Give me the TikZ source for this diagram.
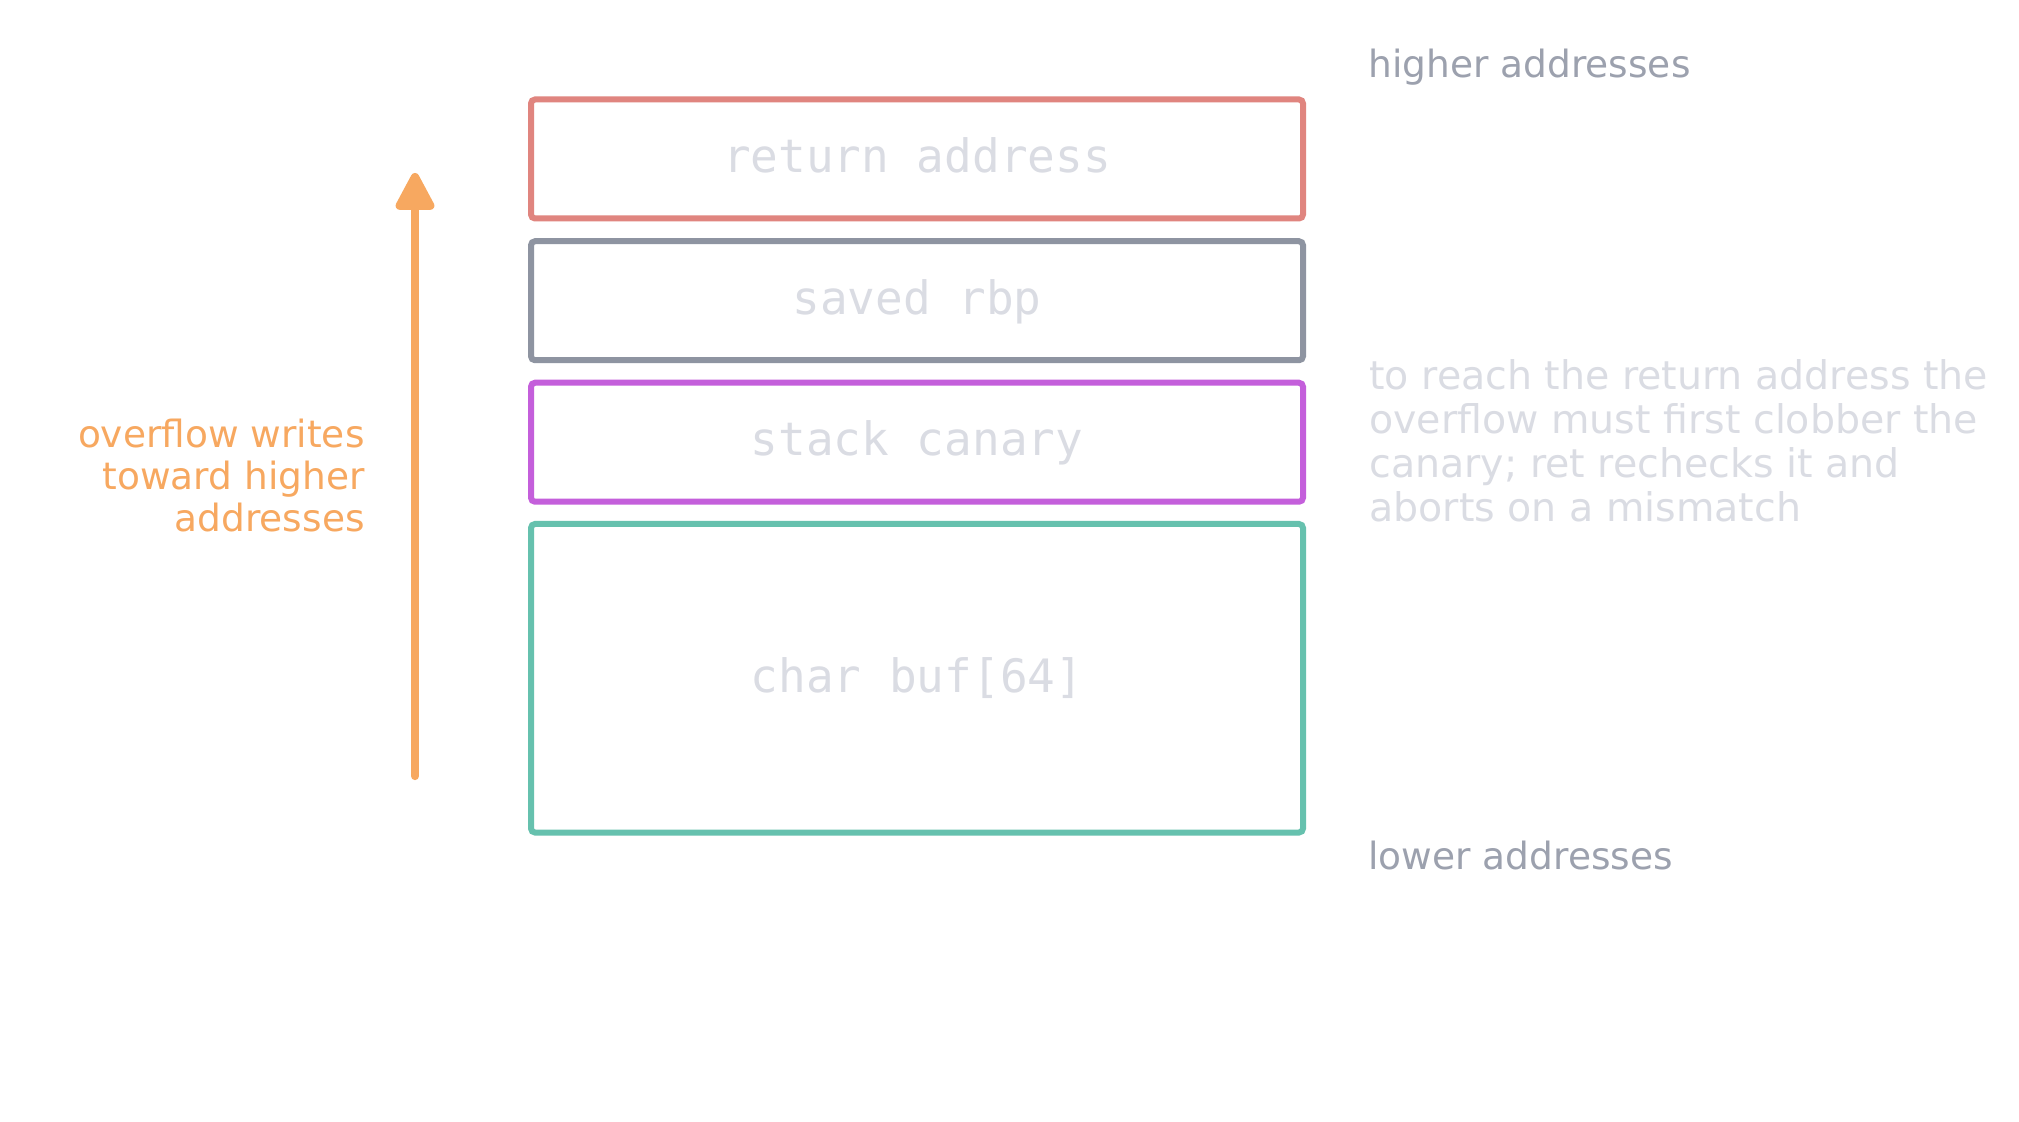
\documentclass[tikz,border=0pt]{standalone}
\usepackage{fontspec}
\setmainfont{DejaVu Sans}
\setmonofont{DejaVu Sans Mono}
\usetikzlibrary{arrows.meta}
\definecolor{cred}{HTML}{E0857F}
\definecolor{cgrey}{HTML}{8E94A1}
\definecolor{cpurple}{HTML}{C45FDB}
\definecolor{cteal}{HTML}{66C1AE}
\definecolor{corange}{HTML}{F7A860}
\definecolor{clight}{HTML}{DADCE3}
\definecolor{chead}{HTML}{9CA1AE}
\tikzset{
  frame/.style={draw=#1, line width=3pt, rounded corners=2pt, inner sep=0pt, outer sep=0pt,
    minimum width=386pt, minimum height=59.5pt},
  monolabel/.style={inner sep=0pt, text=clight, font=\fontsize{23pt}{27pt}\selectfont\ttfamily, anchor=base},
  sidehead/.style={inner sep=0pt, text=chead, font=\fontsize{18.75pt}{22pt}\selectfont, anchor=base west},
  note/.style={inner sep=0pt, text=clight, font=\fontsize{19.75pt}{22pt}\selectfont, align=left, anchor=north west},
  dirlabel/.style={inner sep=0pt, text=corange, font=\fontsize{18.75pt}{20.85pt}\selectfont, align=right, anchor=north east},
  growarrow/.style={draw=corange, line width=4.15pt, line cap=round,
    -{Triangle[length=21pt, width=21pt, round]}}
}
\begin{document}
\begin{tikzpicture}[x=0.5pt, y=-0.5pt]
\useasboundingbox (0,0) rectangle (2019,1122);
\fill[white] (0,0) rectangle (2019,1122);

% stack frames
\node[frame=cred] (ret) at (917,159) {};
\node[frame=cgrey] (rbp) at (917,300.75) {};
\node[frame=cpurple] (can) at (917,442.25) {};
\node[frame=cteal, minimum height=154.25pt] (buf) at (917,678.25) {};

\node[monolabel] (tret) at (917,172.7) {return address};
\node[monolabel] (trbp) at (917,314.5) {saved rbp};
\node[monolabel] (tcan) at (917,456) {stack canary};
\node[monolabel] (tbuf) at (917,692) {char buf[64]};

% side labels
\node[sidehead] (hi) at (1368,77.5) {higher addresses};
\node[sidehead] (lo) at (1368,869) {lower addresses};
\node[note] (why) at (1369,359.5) {to reach the return address the\\overflow must first clobber the\\canary; ret rechecks it and\\aborts on a mismatch};

% growth arrow
\coordinate (abot) at (415,776);
\coordinate (atop) at (415,173);
\draw[growarrow] (abot) -- (atop);
\node[dirlabel] (dir) at (365,419) {overflow writes\\toward higher\\addresses};
\end{tikzpicture}
\end{document}
